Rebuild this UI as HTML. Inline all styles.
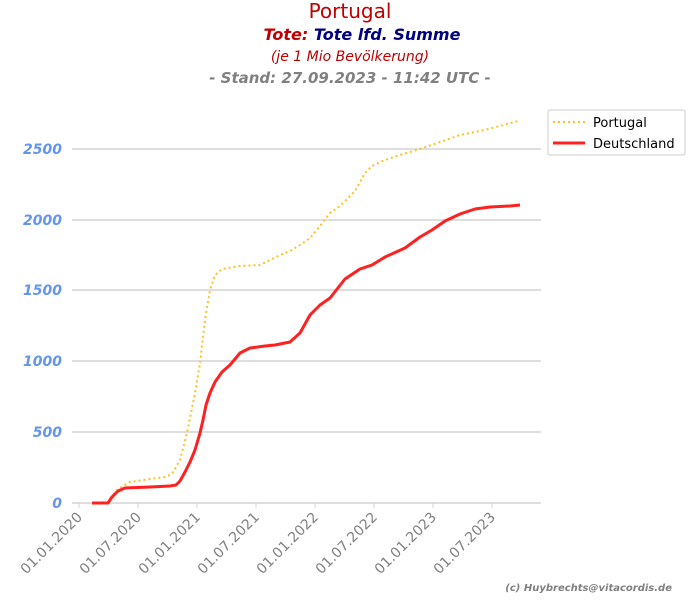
<!DOCTYPE html>
<html><head><meta charset="utf-8"><style>body{margin:0;background:#fff}</style></head><body>
<svg width="700" height="600" xmlns="http://www.w3.org/2000/svg" font-family="DejaVu Sans, Liberation Sans, sans-serif">
<rect width="700" height="600" fill="#fff"/>
<text x="350" y="18" text-anchor="middle" font-size="20" fill="#c00000">Portugal</text>
<text x="362" y="40" text-anchor="middle" font-size="16" font-weight="bold" font-style="italic"><tspan fill="#c00000">Tote: </tspan><tspan fill="#000080">Tote lfd. Summe</tspan></text>
<text x="350" y="61" text-anchor="middle" font-size="14" font-style="italic" fill="#c00000">(je 1 Mio Bevölkerung)</text>
<text x="350" y="83" text-anchor="middle" font-size="15" font-weight="bold" font-style="italic" fill="#808080">- Stand: 27.09.2023 - 11:42 UTC -</text>
<g stroke="#d3d3d3" stroke-width="1.5">
<line x1="72" y1="149" x2="541" y2="149"/><line x1="72" y1="220" x2="541" y2="220"/><line x1="72" y1="290" x2="541" y2="290"/><line x1="72" y1="361" x2="541" y2="361"/><line x1="72" y1="432" x2="541" y2="432"/><line x1="72" y1="503" x2="541" y2="503"/>
</g>
<g stroke="#d3d3d3" stroke-width="1">
<line x1="79" y1="503" x2="79" y2="508"/><line x1="138" y1="503" x2="138" y2="508"/><line x1="197" y1="503" x2="197" y2="508"/><line x1="256" y1="503" x2="256" y2="508"/><line x1="315" y1="503" x2="315" y2="508"/><line x1="374" y1="503" x2="374" y2="508"/><line x1="433" y1="503" x2="433" y2="508"/><line x1="492" y1="503" x2="492" y2="508"/>
</g>
<g font-size="14" font-weight="bold" font-style="italic" fill="#6495ed" text-anchor="end">
<text x="62" y="154">2500</text><text x="62" y="225">2000</text><text x="62" y="295">1500</text><text x="62" y="366">1000</text><text x="62" y="437">500</text><text x="62" y="508">0</text>
</g>
<g font-size="14" fill="#808080" text-anchor="end">
<text transform="translate(83,518) rotate(-45)">01.01.2020</text>
<text transform="translate(142,518) rotate(-45)">01.07.2020</text>
<text transform="translate(201,518) rotate(-45)">01.01.2021</text>
<text transform="translate(260,518) rotate(-45)">01.07.2021</text>
<text transform="translate(319,518) rotate(-45)">01.01.2022</text>
<text transform="translate(378,518) rotate(-45)">01.07.2022</text>
<text transform="translate(437,518) rotate(-45)">01.01.2023</text>
<text transform="translate(496,518) rotate(-45)">01.07.2023</text>
</g>
<polyline fill="none" stroke="#ffc020" stroke-width="2" stroke-dasharray="2,3" points="92,503 108,502 112,496 118,489 130,482 150,479 165,477 172,474 180,460 187,433 195,393 200,363 205,320 210,290 215,275 222,269 240,266 260,265 270,260 280,255 290,251 300,245 310,238 320,226 330,213 340,206 355,191 365,173 372,166 385,160 400,155 420,149 440,142 460,135 480,131 500,126 518,121"/>
<polyline fill="none" stroke="#ff2020" stroke-width="3" stroke-linejoin="round" points="92,503 108,503 112,497 118,491 125,488 150,487 170,486 176,485 180,481 185,472 190,462 195,450 200,433 203,420 206,405 210,393 215,382 222,372 230,365 240,353 250,348 265,346 275,345 290,342 300,333 310,315 320,305 330,298 345,279 360,269 372,265 385,257 405,248 420,237 432,230 445,221 460,214 475,209 490,207 510,206 520,205"/>
<rect x="548" y="110" width="137" height="45" fill="#fff" stroke="#ccc" rx="2"/>
<line x1="553" y1="122" x2="585" y2="122" stroke="#ffc020" stroke-width="2" stroke-dasharray="2,3"/>
<text x="593" y="127" font-size="13" fill="#000">Portugal</text>
<line x1="553" y1="143" x2="585" y2="143" stroke="#ff2020" stroke-width="3"/>
<text x="593" y="148" font-size="13" fill="#000">Deutschland</text>
<text x="672" y="591" text-anchor="end" font-size="10" font-weight="bold" font-style="italic" fill="#808080">(c) Huybrechts@vitacordis.de</text>
</svg>
</body></html>
